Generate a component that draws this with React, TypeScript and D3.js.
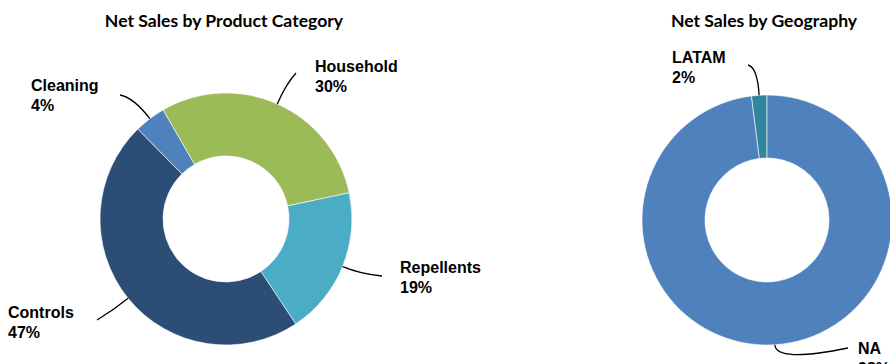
import React from "react";
import * as d3 from "d3";

const categoryNames = ["Household", "Repellents", "Controls", "Cleaning"];
const categoryValues = [30, 19, 47, 4];
const categoryColors = ["#9BBB59", "#4BACC6", "#2C4D75", "#4F81BD"];

const geoNames = ["LATAM", "NA"];
const geoValues = [2, 98];
const geoColors = ["#31859C", "#4F81BD"];

const W = 890;
const H = 364;
const deg = Math.PI / 180;

type LabelSpec = { x: number; y: number; ex: number; ey: number; ctrl: number };

const categoryLabels: LabelSpec[] = [
  { x: 315, y: 72, ex: 296, ey: 73, ctrl: 22 },
  { x: 400, y: 273, ex: 382, ey: 276, ctrl: 20 },
  { x: 8, y: 318, ex: 97, ey: 320, ctrl: 20 },
  { x: 31, y: 91, ex: 120, ey: 95, ctrl: 26 },
];
const geoLabels: LabelSpec[] = [
  { x: 672, y: 63, ex: 748, ey: 65, ctrl: 28 },
  { x: 858, y: 354, ex: 848, ey: 348, ctrl: 18 },
];

function Donut(props: {
  cx: number;
  cy: number;
  r: number;
  inner: number;
  start: number;
  names: string[];
  values: number[];
  colors: string[];
  labels: LabelSpec[];
}) {
  const { cx, cy, r, inner, start, names, values, colors, labels } = props;
  const total = d3.sum(values);
  const pie = d3
    .pie<number>()
    .sort(null)
    .value((d) => d)
    .startAngle(start)
    .endAngle(start + 2 * Math.PI);
  const arcs = pie(values);
  const arc = d3.arc<d3.PieArcDatum<number>>().innerRadius(inner).outerRadius(r);
  return (
    <g>
      <g transform={`translate(${cx},${cy})`}>
        {arcs.map((a, i) => (
          <path key={i} d={arc(a) || ""} fill={colors[i]} stroke="#ffffff" strokeWidth={0.6} />
        ))}
      </g>
      {arcs.map((a, i) => {
        const mid = (a.startAngle + a.endAngle) / 2;
        const dx = Math.sin(mid);
        const dy = -Math.cos(mid);
        const sx = cx + r * dx;
        const sy = cy + r * dy;
        const L = labels[i];
        const qx = sx + L.ctrl * dx;
        const qy = sy + L.ctrl * dy;
        const p = d3.path();
        p.moveTo(sx, sy);
        p.quadraticCurveTo(qx, qy, L.ex, L.ey);
        const pct = Math.round((values[i] / total) * 100);
        return (
          <g key={"l" + i}>
            <path d={p.toString()} fill="none" stroke="#000" strokeWidth={1.3} />
            <text
              x={L.x}
              y={L.y}
              fontFamily="'Liberation Sans', Arial, sans-serif"
              fontWeight="bold"
              fontSize={16}
              fill="#000"
            >
              <tspan x={L.x}>{names[i]}</tspan>
              <tspan x={L.x} dy={20}>{pct + "%"}</tspan>
            </text>
          </g>
        );
      })}
    </g>
  );
}

export default function App() {
  return (
    <svg
      width={W}
      height={H}
      viewBox={`0 0 ${W} ${H}`}
      style={{ position: "absolute", left: 0, top: 0, background: "#fff" }}
    >
      <rect x={0} y={0} width={W} height={H} fill="#fff" />
      <text
        x={224}
        y={27}
        textAnchor="middle"
        fontFamily="Lato, 'Open Sans', sans-serif"
        fontWeight="bold"
        fontSize={17.6}
        fill="#000"
      >
        Net Sales by Product Category
      </text>
      <text
        x={764}
        y={27}
        textAnchor="middle"
        fontFamily="Lato, 'Open Sans', sans-serif"
        fontWeight="bold"
        fontSize={17.6}
        fill="#000"
      >
        Net Sales by Geography
      </text>
      <Donut
        cx={226}
        cy={219}
        r={126}
        inner={63}
        start={-30 * deg}
        names={categoryNames}
        values={categoryValues}
        colors={categoryColors}
        labels={categoryLabels}
      />
      <Donut
        cx={767}
        cy={220}
        r={125}
        inner={62}
        start={-7.2 * deg}
        names={geoNames}
        values={geoValues}
        colors={geoColors}
        labels={geoLabels}
      />
    </svg>
  );
}
